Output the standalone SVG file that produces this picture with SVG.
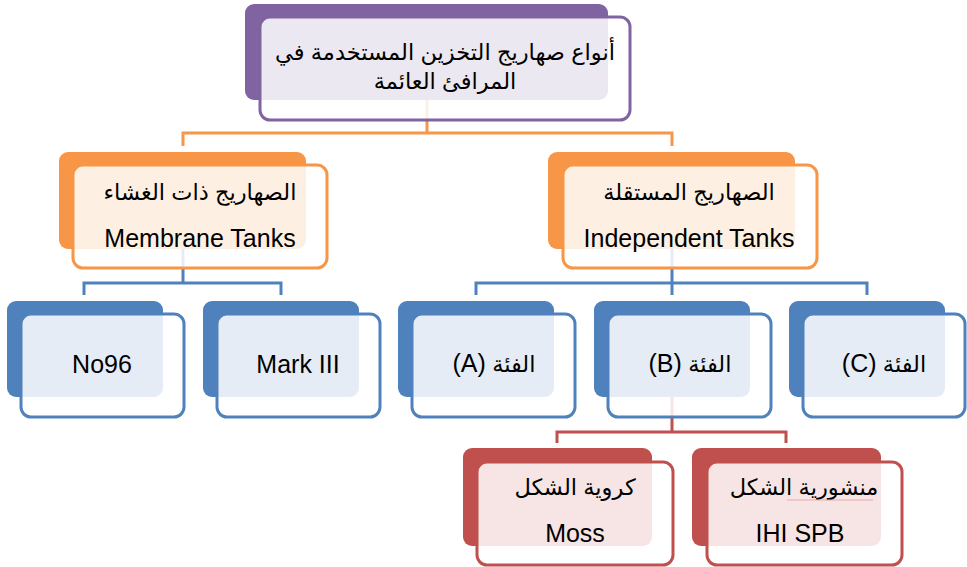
<svg xmlns="http://www.w3.org/2000/svg" width="967" height="567" viewBox="0 0 967 567">
  <style>
    .bg { fill: #ffffff; }
    .link { fill: none; stroke-width: 3; stroke-linejoin: miter; }
    .back { stroke: none; }
    .front { fill: #ffffff; fill-opacity: 0.85; stroke-width: 3; }
    .purple .back { fill: #8064A2; } .purple .front { stroke: #8064A2; }
    .orange .back { fill: #F79646; } .orange .front { stroke: #F79646; }
    .blue .back { fill: #4F81BD; } .blue .front { stroke: #4F81BD; }
    .red .back { fill: #C0504D; } .red .front { stroke: #C0504D; }
    text { font-family: "Liberation Sans", "DejaVu Sans", sans-serif; font-size: 25px; fill: #000000; text-anchor: middle; }
    .ar { direction: rtl; font-size: 22.5px; }
    .lat { font-size: 25px; }
  </style>

  <rect class="bg" x="0" y="0" width="967" height="567"/>

  <!-- connectors (drawn first so the translucent node faces tint them) -->
  <g id="connectors">
    <path class="link" stroke="#F79646" d="M427,100 V133 M183,146 V133 H672 V146"/>
    <path class="link" stroke="#4F81BD" d="M183,249 V283 M84,295 V283 H281 V295"/>
    <path class="link" stroke="#4F81BD" d="M672,249 V295 M476,295 V283 H867 V295"/>
    <path class="link" stroke="#C0504D" d="M672,397 V432 M557,443 V432 H786 V443"/>
  </g>

  <!-- root -->
  <g id="node-root" class="purple">
    <rect class="back" x="245" y="4" width="363" height="96" rx="9"/>
    <rect class="front" x="260" y="17" width="370" height="103" rx="10"/>
    <text class="ar" x="445" y="60">أنواع صهاريج التخزين المستخدمة في</text>
    <text class="ar" x="445" y="89">المرافئ العائمة</text>
  </g>

  <!-- second level -->
  <g id="node-membrane" class="orange">
    <rect class="back" x="59" y="152" width="247" height="97" rx="9"/>
    <rect class="front" x="73" y="165" width="254" height="103" rx="10"/>
    <text class="ar" x="200" y="200">الصهاريج ذات الغشاء</text>
    <text x="200" y="247">Membrane Tanks</text>
  </g>
  <g id="node-independent" class="orange">
    <rect class="back" x="548" y="152" width="247" height="97" rx="9"/>
    <rect class="front" x="563" y="165" width="254" height="103" rx="10"/>
    <text class="ar" x="689" y="200">الصهاريج المستقلة</text>
    <text x="689" y="247">Independent Tanks</text>
  </g>

  <!-- third level -->
  <g id="node-no96" class="blue">
    <rect class="back" x="7" y="301" width="156" height="96" rx="9"/>
    <rect class="front" x="21" y="314" width="163" height="103" rx="10"/>
    <text x="102" y="373">No96</text>
  </g>
  <g id="node-mark3" class="blue">
    <rect class="back" x="203" y="301" width="156" height="96" rx="9"/>
    <rect class="front" x="217" y="314" width="163" height="103" rx="10"/>
    <text x="298" y="373">Mark III</text>
  </g>
  <g id="node-type-a" class="blue">
    <rect class="back" x="398" y="301" width="156" height="96" rx="9"/>
    <rect class="front" x="412" y="314" width="163" height="103" rx="10"/>
    <text class="ar" x="494" y="372">الفئة <tspan class="lat">(A)</tspan></text>
  </g>
  <g id="node-type-b" class="blue">
    <rect class="back" x="594" y="301" width="156" height="96" rx="9"/>
    <rect class="front" x="608" y="314" width="163" height="103" rx="10"/>
    <text class="ar" x="690" y="372">الفئة <tspan class="lat">(B)</tspan></text>
  </g>
  <g id="node-type-c" class="blue">
    <rect class="back" x="789" y="301" width="156" height="96" rx="9"/>
    <rect class="front" x="803" y="314" width="162" height="103" rx="10"/>
    <text class="ar" x="884" y="372">الفئة <tspan class="lat">(C)</tspan></text>
  </g>

  <!-- fourth level -->
  <g id="node-moss" class="red">
    <rect class="back" x="463" y="448" width="189" height="98" rx="9"/>
    <rect class="front" x="477" y="462" width="196" height="103" rx="10"/>
    <text class="ar" x="575" y="495">كروية الشكل</text>
    <text x="575" y="542">Moss</text>
  </g>
  <g id="node-spb" class="red">
    <rect class="back" x="692" y="448" width="189" height="98" rx="9"/>
    <rect class="front" x="707" y="462" width="195" height="103" rx="10"/>
    <text class="ar" x="804" y="495">منشورية الشكل</text>
    <line x1="787" y1="500" x2="873" y2="500" stroke="#EBA9A9" stroke-width="1"/>
    <text x="800" y="542">IHI SPB</text>
  </g>
</svg>
